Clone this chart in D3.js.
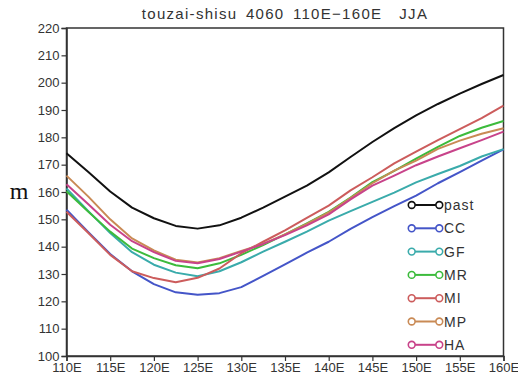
<!DOCTYPE html>
<html><head><meta charset="utf-8">
<script src="https://cdn.jsdelivr.net/npm/d3@7"></script>
<style>body{margin:0;background:#fff}svg{display:block}</style>
</head><body>
<div id="chart"></div>
<script>
const lons = [110,112.5,115,117.5,120,122.5,125,127.5,130,132.5,135,137.5,140,142.5,145,147.5,150,152.5,155,157.5,160];
const past = [174.2,167.3,160.2,154.3,150.4,147.6,146.6,147.8,150.6,154.3,158.3,162.3,167.2,172.8,178.3,183.4,188,192.2,196,199.5,202.8];
const CC = [153.5,145.3,137.3,131,126.3,123.3,122.4,123,125.2,129.3,133.5,137.8,141.8,146.5,150.8,154.8,158.7,163.2,167.3,171.5,175.6];
const GF = [161.3,153,145,138,133.4,130.5,129.2,131,134.3,138.2,141.8,145.5,149.5,153,156.4,159.8,163.5,166.6,169.5,173,175.7];
const MR = [160.3,152.8,145.5,139.3,135.8,133.2,132.1,133.9,137,140.6,144.5,148.5,152.7,158,163.6,167.7,172.2,176.5,180.5,183.5,186];
const MI = [152.8,145,137,131,128.5,127,128.6,132,137.6,141.8,146,150.5,155,160.6,165.4,170.5,174.8,179,183,187,191.6];
const MP = [166,158.3,150,143,138.6,135.2,134.2,135.8,138.4,141,144.5,148.3,152.5,157.8,163.2,167.8,171.5,175.8,178.8,181.3,183.3];
const HA = [162.8,155.5,148,142,138,134.8,133.9,135.5,138.2,141,144.2,147.8,151.8,157.3,162.3,166,169.8,173,176,179,182.1];
const seriesNames = ["past","CC","GF","MR","MI","MP","HA"];
const seriesValues = [past,CC,GF,MR,MI,MP,HA];
const seriesColors = ["#111111","#4455c8","#3aabab","#3cbb3c","#cc5c5c","#c98a55","#c8438a"];
const yTicks = [100,110,120,130,140,150,160,170,180,190,200,210,220];
const xTicks = [110,115,120,125,130,135,140,145,150,155,160];
const xTickLabels = ["110E","115E","120E","125E","130E","135E","140E","145E","150E","155E","160E"];
const titleText = "touzai-shisu 4060 110E\u2212160E  JJA";
const yLabel = "m";

const W = 518, H = 375;
const svg = d3.select("#chart").append("svg").attr("width", W).attr("height", H);
const x = d3.scaleLinear().domain([110,160]).range([66.5,503.5]);
const y = d3.scaleLinear().domain([100,220]).range([356,28]);
const font = "'Liberation Sans', Arial, sans-serif";

// frame
svg.append("rect").attr("x", x(110)).attr("y", y(220))
  .attr("width", x(160)-x(110)).attr("height", y(100)-y(220))
  .attr("fill","none").attr("stroke","#333").attr("stroke-width",1.5);

// axes
const yAxis = svg.append("g").attr("transform",`translate(${x(110)},0)`)
  .call(d3.axisLeft(y).tickValues(yTicks).tickSize(5).tickPadding(2).tickFormat(d3.format("d")));
const xAxis = svg.append("g").attr("transform",`translate(0,${y(100)})`)
  .call(d3.axisBottom(x).tickValues(xTicks).tickSize(5).tickPadding(2).tickFormat((d,i)=>xTickLabels[i]));
[yAxis,xAxis].forEach(g=>{
  g.select(".domain").attr("stroke","#333").attr("stroke-width",1.5);
  g.selectAll(".tick line").attr("stroke","#333").attr("stroke-width",1.2);
  g.selectAll("text").attr("fill","#333").style("font-family",font).style("font-size","13px");
});

// title
svg.append("text").attr("x", 285).attr("y", 19).attr("text-anchor","middle")
  .attr("xml:space","preserve")
  .style("font-family",font).style("font-size","15px").style("white-space","pre")
  .attr("fill","#333").attr("letter-spacing","1.3px").attr("word-spacing","3px").text(titleText);

// y label
svg.append("text").attr("x", 19).attr("y", y(160)).attr("dy","0.3em").attr("text-anchor","middle")
  .style("font-family","'Liberation Serif', 'Times New Roman', serif").style("font-size","24px")
  .attr("fill","#111").text(yLabel);

// lines
const line = d3.line().x((d,i)=>x(lons[i])).y(d=>y(d));
seriesValues.forEach((vals,k)=>{
  svg.append("path").datum(vals).attr("d", line).attr("fill","none")
    .attr("stroke", seriesColors[k]).attr("stroke-width",2).attr("stroke-linejoin","round");
});

// legend
const lg = svg.append("g");
seriesNames.forEach((name,k)=>{
  const ly = 205 + k*23.3;
  const g = lg.append("g").attr("transform",`translate(0,${ly})`);
  g.append("line").attr("x1",411.7).attr("x2",439.3).attr("y1",0).attr("y2",0)
    .attr("stroke",seriesColors[k]).attr("stroke-width",2);
  [411.7,439.3].forEach(cx=>g.append("circle").attr("cx",cx).attr("cy",0).attr("r",3.4)
    .attr("fill","#fff").attr("stroke",seriesColors[k]).attr("stroke-width",1.6));
  g.append("text").attr("x",444).attr("y",0).attr("dy","0.36em")
    .style("font-family",font).style("font-size","14px").attr("letter-spacing","1px")
    .attr("fill","#333").text(name);
});
</script>
</body></html>
